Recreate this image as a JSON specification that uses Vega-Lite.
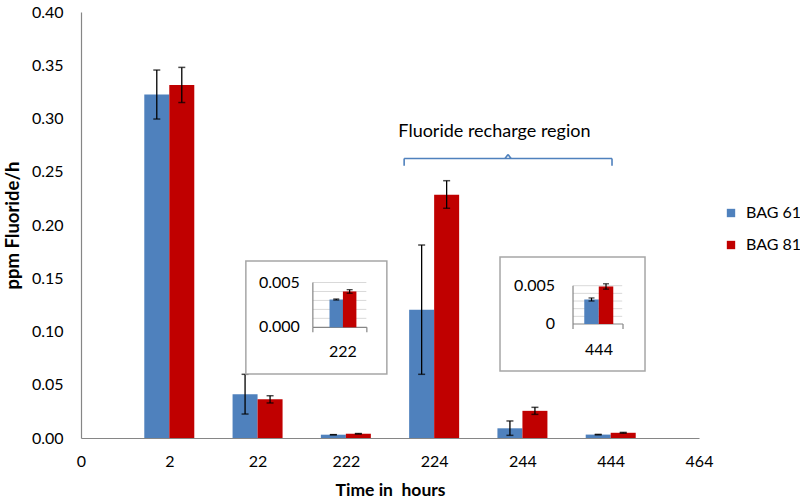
{
 "$schema": "https://vega.github.io/schema/vega-lite/v6.json",
 "width": 618,
 "height": 426,
 "autosize": {"type": "none"},
 "padding": {"left": 81, "top": 12, "right": 101, "bottom": 65},
 "background": "white",
 "config": {"view": {"stroke": null}, "font": "Lato", "text": {"font": "Lato", "color": "black"}},
 "datasets": {
  "main": [
   {"time": "2", "series": "BAG 61", "value": 0.3225, "lo": 0.2995, "hi": 0.3455},
   {"time": "2", "series": "BAG 81", "value": 0.3315, "lo": 0.315, "hi": 0.348},
   {"time": "22", "series": "BAG 61", "value": 0.041, "lo": 0.0225, "hi": 0.0598},
   {"time": "22", "series": "BAG 81", "value": 0.0363, "lo": 0.0329, "hi": 0.0397},
   {"time": "222", "series": "BAG 61", "value": 0.0031, "lo": 0.00304, "hi": 0.00316},
   {"time": "222", "series": "BAG 81", "value": 0.004, "lo": 0.0038, "hi": 0.0042},
   {"time": "224", "series": "BAG 61", "value": 0.1205, "lo": 0.0598, "hi": 0.1812},
   {"time": "224", "series": "BAG 81", "value": 0.2285, "lo": 0.2157, "hi": 0.2416},
   {"time": "244", "series": "BAG 61", "value": 0.0091, "lo": 0.0025, "hi": 0.016},
   {"time": "244", "series": "BAG 81", "value": 0.0255, "lo": 0.0222, "hi": 0.0288},
   {"time": "444", "series": "BAG 61", "value": 0.0032, "lo": 0.003, "hi": 0.0034},
   {"time": "444", "series": "BAG 81", "value": 0.0049, "lo": 0.00455, "hi": 0.00525}
  ],
  "one": [{}],
  "grid": [{"v": 0.001}, {"v": 0.002}, {"v": 0.003}, {"v": 0.004}, {"v": 0.005}]
 },
 "layer": [
  {
   "data": {"name": "main"},
   "layer": [
    {
     "mark": {"type": "bar", "width": 25},
     "encoding": {
      "x": {"field": "time", "type": "nominal",
       "scale": {"type": "point", "domain": ["0", "2", "22", "222", "224", "244", "444", "464"], "padding": 0},
       "axis": {"title": "Time in\u00a0 hours", "labelAngle": 0, "labelFontSize": 16, "labelColor": "black", "labelPadding": 15, "ticks": false, "domainColor": "#868686", "domainWidth": 1.2, "titleFontSize": 17.5, "titleFontWeight": "bold", "titleColor": "black", "titlePadding": 12}},
      "xOffset": {"field": "series", "type": "nominal", "scale": {"type": "point", "range": [-12.5, 12.5], "padding": 0}},
      "y": {"field": "value", "type": "quantitative",
       "scale": {"domain": [0, 0.4], "nice": false, "zero": false},
       "axis": {"title": "ppm Fluoride/h", "values": [0, 0.05, 0.1, 0.15, 0.2, 0.25, 0.3, 0.35, 0.4], "format": ".2f", "grid": false, "ticks": false, "labelFontSize": 16, "labelColor": "black", "labelPadding": 18, "domainColor": "#868686", "domainWidth": 1.2, "titleFontSize": 18.5, "titleFontWeight": "bold", "titleColor": "black", "titlePadding": 9}},
      "color": {"field": "series", "type": "nominal",
       "scale": {"domain": ["BAG 61", "BAG 81"], "range": ["#4f81bd", "#c00000"]},
       "legend": {"title": null, "orient": "none", "legendX": 642, "legendY": 193, "labelFontSize": 16, "labelColor": "black", "symbolType": "square", "symbolSize": 70, "rowPadding": 16, "padding": 0, "labelOffset": 7}}
     }
    },
    {
     "mark": {"type": "rule", "color": "black", "strokeWidth": 1.3},
     "encoding": {
      "x": {"field": "time", "type": "nominal"},
      "xOffset": {"field": "series", "type": "nominal", "scale": {"type": "point", "range": [-12.5, 12.5], "padding": 0}},
      "y": {"field": "lo", "type": "quantitative"},
      "y2": {"field": "hi"}
     }
    },
    {
     "mark": {"type": "tick", "orient": "horizontal", "color": "black", "size": 7, "thickness": 1.5},
     "encoding": {
      "x": {"field": "time", "type": "nominal"},
      "xOffset": {"field": "series", "type": "nominal", "scale": {"type": "point", "range": [-12.5, 12.5], "padding": 0}},
      "y": {"field": "hi", "type": "quantitative"}
     }
    },
    {
     "mark": {"type": "tick", "orient": "horizontal", "color": "black", "size": 7, "thickness": 1.5},
     "encoding": {
      "x": {"field": "time", "type": "nominal"},
      "xOffset": {"field": "series", "type": "nominal", "scale": {"type": "point", "range": [-12.5, 12.5], "padding": 0}},
      "y": {"field": "lo", "type": "quantitative"}
     }
    },
    {
     "data": {"name": "one"},
     "mark": {"type": "rule", "color": "#4f81bd", "strokeWidth": 1.6, "xOffset": -30, "x2Offset": 1.3},
     "encoding": {"x": {"datum": "224", "type": "nominal"}, "x2": {"datum": "444"}, "y": {"datum": 0.2624, "type": "quantitative"}}
    },
    {
     "data": {"name": "one"},
     "mark": {"type": "rule", "color": "#4f81bd", "strokeWidth": 1.6, "xOffset": -30},
     "encoding": {"x": {"datum": "224", "type": "nominal"}, "y": {"datum": 0.2557, "type": "quantitative"}, "y2": {"datum": 0.2624}}
    },
    {
     "data": {"name": "one"},
     "mark": {"type": "rule", "color": "#4f81bd", "strokeWidth": 1.6, "xOffset": 1.3},
     "encoding": {"x": {"datum": "444", "type": "nominal"}, "y": {"datum": 0.2557, "type": "quantitative"}, "y2": {"datum": 0.2624}}
    },
    {
     "data": {"name": "one"},
     "mark": {"type": "rule", "color": "#4f81bd", "strokeWidth": 1.6, "xOffset": -17.4, "x2Offset": -14.4},
     "encoding": {"x": {"datum": "244", "type": "nominal"}, "x2": {"datum": "244"}, "y": {"datum": 0.2624, "type": "quantitative"}, "y2": {"datum": 0.2661}}
    },
    {
     "data": {"name": "one"},
     "mark": {"type": "rule", "color": "#4f81bd", "strokeWidth": 1.6, "xOffset": -14.4, "x2Offset": -11.4},
     "encoding": {"x": {"datum": "244", "type": "nominal"}, "x2": {"datum": "244"}, "y": {"datum": 0.2661, "type": "quantitative"}, "y2": {"datum": 0.2624}}
    },
    {
     "data": {"name": "one"},
     "mark": {"type": "text", "text": "Fluoride recharge region", "fontSize": 18, "align": "center", "baseline": "middle", "xOffset": -28, "color": "black"},
     "encoding": {"x": {"datum": "244", "type": "nominal"}, "y": {"datum": 0.2873, "type": "quantitative"}}
    }
   ]
  },
  {
   "data": {"name": "main"},
   "layer": [
    {
     "data": {"name": "one"},
     "mark": {"type": "rect", "fill": "white", "stroke": "#a6a6a6", "strokeWidth": 1.5, "xOffset": -100, "x2Offset": 41},
     "encoding": {"x": {"datum": "222", "type": "nominal"}, "x2": {"datum": "222"},
      "y": {"datum": 0.0074, "type": "quantitative", "scale": {"domain": [-0.012355, 0.03519], "nice": false, "zero": false}, "axis": null},
      "y2": {"datum": -0.00521}}
    },
    {
     "data": {"name": "grid"},
     "mark": {"type": "rule", "color": "#d9d9d9", "strokeWidth": 1, "xOffset": -33, "x2Offset": 20.5},
     "encoding": {"x": {"datum": "222", "type": "nominal"}, "x2": {"datum": "222"}, "y": {"field": "v", "type": "quantitative", "axis": null}}
    },
    {
     "data": {"name": "one"},
     "mark": {"type": "rule", "color": "#868686", "strokeWidth": 1.2, "xOffset": -33},
     "encoding": {"x": {"datum": "222", "type": "nominal"}, "y": {"datum": 0, "type": "quantitative", "axis": null}, "y2": {"datum": 0.005}}
    },
    {
     "data": {"name": "one"},
     "mark": {"type": "rule", "color": "#868686", "strokeWidth": 1.2, "xOffset": -33, "x2Offset": 21},
     "encoding": {"x": {"datum": "222", "type": "nominal"}, "x2": {"datum": "222"}, "y": {"datum": 0, "type": "quantitative", "axis": null}}
    },
    {
     "data": {"name": "one"},
     "mark": {"type": "rule", "color": "#868686", "strokeWidth": 1.2, "xOffset": -33},
     "encoding": {"x": {"datum": "222", "type": "nominal"}, "y": {"datum": 0, "type": "quantitative", "axis": null}, "y2": {"datum": -0.00056}}
    },
    {
     "data": {"name": "one"},
     "mark": {"type": "rule", "color": "#868686", "strokeWidth": 1.2, "xOffset": 21},
     "encoding": {"x": {"datum": "222", "type": "nominal"}, "y": {"datum": 0, "type": "quantitative", "axis": null}, "y2": {"datum": -0.00056}}
    },
    {
     "transform": [{"filter": "datum.time == '222'"}],
     "mark": {"type": "bar", "width": 13.5},
     "encoding": {
      "x": {"field": "time", "type": "nominal"},
      "xOffset": {"field": "series", "type": "nominal", "scale": {"type": "point", "range": [-9.6, 3.8], "padding": 0}},
      "y": {"field": "value", "type": "quantitative", "axis": null},
      "color": {"field": "series", "type": "nominal"}
     }
    },
    {
     "transform": [{"filter": "datum.time == '222'"}],
     "mark": {"type": "rule", "color": "black", "strokeWidth": 1.2},
     "encoding": {"x": {"field": "time", "type": "nominal"}, "xOffset": {"field": "series", "type": "nominal", "scale": {"type": "point", "range": [-9.6, 3.8], "padding": 0}}, "y": {"field": "lo", "type": "quantitative", "axis": null}, "y2": {"field": "hi"}}
    },
    {
     "transform": [{"filter": "datum.time == '222'"}],
     "mark": {"type": "tick", "orient": "horizontal", "color": "black", "size": 6, "thickness": 1.3},
     "encoding": {"x": {"field": "time", "type": "nominal"}, "xOffset": {"field": "series", "type": "nominal", "scale": {"type": "point", "range": [-9.6, 3.8], "padding": 0}}, "y": {"field": "hi", "type": "quantitative", "axis": null}}
    },
    {
     "transform": [{"filter": "datum.time == '222'"}],
     "mark": {"type": "tick", "orient": "horizontal", "color": "black", "size": 6, "thickness": 1.3},
     "encoding": {"x": {"field": "time", "type": "nominal"}, "xOffset": {"field": "series", "type": "nominal", "scale": {"type": "point", "range": [-9.6, 3.8], "padding": 0}}, "y": {"field": "lo", "type": "quantitative", "axis": null}}
    },
    {
     "data": {"name": "one"},
     "mark": {"type": "text", "text": "0.005", "fontSize": 16, "align": "right", "baseline": "middle", "xOffset": -46, "color": "black"},
     "encoding": {"x": {"datum": "222", "type": "nominal"}, "y": {"datum": 0.005, "type": "quantitative", "axis": null}}
    },
    {
     "data": {"name": "one"},
     "mark": {"type": "text", "text": "0.000", "fontSize": 16, "align": "right", "baseline": "middle", "xOffset": -46, "color": "black"},
     "encoding": {"x": {"datum": "222", "type": "nominal"}, "y": {"datum": 0, "type": "quantitative", "axis": null}}
    },
    {
     "data": {"name": "one"},
     "mark": {"type": "text", "text": "222", "fontSize": 16, "align": "center", "baseline": "middle", "xOffset": -3, "color": "black"},
     "encoding": {"x": {"datum": "222", "type": "nominal"}, "y": {"datum": -0.00276, "type": "quantitative", "axis": null}}
    }
   ]
  },
  {
   "data": {"name": "main"},
   "layer": [
    {
     "data": {"name": "one"},
     "mark": {"type": "rect", "fill": "white", "stroke": "#a6a6a6", "strokeWidth": 1.5, "xOffset": -110.7, "x2Offset": 34.3},
     "encoding": {"x": {"datum": "444", "type": "nominal"}, "x2": {"datum": "444"},
      "y": {"datum": 0.008747, "type": "quantitative", "scale": {"domain": [-0.014883, 0.040731], "nice": false, "zero": false}, "axis": null},
      "y2": {"datum": -0.006136}}
    },
    {
     "data": {"name": "grid"},
     "mark": {"type": "rule", "color": "#d9d9d9", "strokeWidth": 1, "xOffset": -37.7, "x2Offset": 11.5},
     "encoding": {"x": {"datum": "444", "type": "nominal"}, "x2": {"datum": "444"}, "y": {"field": "v", "type": "quantitative", "axis": null}}
    },
    {
     "data": {"name": "one"},
     "mark": {"type": "rule", "color": "#868686", "strokeWidth": 1.2, "xOffset": -37.7},
     "encoding": {"x": {"datum": "444", "type": "nominal"}, "y": {"datum": 0, "type": "quantitative", "axis": null}, "y2": {"datum": 0.005}}
    },
    {
     "data": {"name": "one"},
     "mark": {"type": "rule", "color": "#868686", "strokeWidth": 1.2, "xOffset": -37.7, "x2Offset": 12.3},
     "encoding": {"x": {"datum": "444", "type": "nominal"}, "x2": {"datum": "444"}, "y": {"datum": 0, "type": "quantitative", "axis": null}}
    },
    {
     "data": {"name": "one"},
     "mark": {"type": "rule", "color": "#868686", "strokeWidth": 1.2, "xOffset": -37.7},
     "encoding": {"x": {"datum": "444", "type": "nominal"}, "y": {"datum": 0, "type": "quantitative", "axis": null}, "y2": {"datum": -0.00065}}
    },
    {
     "data": {"name": "one"},
     "mark": {"type": "rule", "color": "#868686", "strokeWidth": 1.2, "xOffset": 12.3},
     "encoding": {"x": {"datum": "444", "type": "nominal"}, "y": {"datum": 0, "type": "quantitative", "axis": null}, "y2": {"datum": -0.00065}}
    },
    {
     "transform": [{"filter": "datum.time == '444'"}],
     "mark": {"type": "bar", "width": 14.5},
     "encoding": {
      "x": {"field": "time", "type": "nominal"},
      "xOffset": {"field": "series", "type": "nominal", "scale": {"type": "point", "range": [-19.2, -4.7], "padding": 0}},
      "y": {"field": "value", "type": "quantitative", "axis": null},
      "color": {"field": "series", "type": "nominal"}
     }
    },
    {
     "transform": [{"filter": "datum.time == '444'"}],
     "mark": {"type": "rule", "color": "black", "strokeWidth": 1.2},
     "encoding": {"x": {"field": "time", "type": "nominal"}, "xOffset": {"field": "series", "type": "nominal", "scale": {"type": "point", "range": [-19.2, -4.7], "padding": 0}}, "y": {"field": "lo", "type": "quantitative", "axis": null}, "y2": {"field": "hi"}}
    },
    {
     "transform": [{"filter": "datum.time == '444'"}],
     "mark": {"type": "tick", "orient": "horizontal", "color": "black", "size": 6, "thickness": 1.3},
     "encoding": {"x": {"field": "time", "type": "nominal"}, "xOffset": {"field": "series", "type": "nominal", "scale": {"type": "point", "range": [-19.2, -4.7], "padding": 0}}, "y": {"field": "hi", "type": "quantitative", "axis": null}}
    },
    {
     "transform": [{"filter": "datum.time == '444'"}],
     "mark": {"type": "tick", "orient": "horizontal", "color": "black", "size": 6, "thickness": 1.3},
     "encoding": {"x": {"field": "time", "type": "nominal"}, "xOffset": {"field": "series", "type": "nominal", "scale": {"type": "point", "range": [-19.2, -4.7], "padding": 0}}, "y": {"field": "lo", "type": "quantitative", "axis": null}}
    },
    {
     "data": {"name": "one"},
     "mark": {"type": "text", "text": "0.005", "fontSize": 16, "align": "right", "baseline": "middle", "xOffset": -55.7, "color": "black"},
     "encoding": {"x": {"datum": "444", "type": "nominal"}, "y": {"datum": 0.005, "type": "quantitative", "axis": null}}
    },
    {
     "data": {"name": "one"},
     "mark": {"type": "text", "text": "0", "fontSize": 16, "align": "right", "baseline": "middle", "xOffset": -55.7, "color": "black"},
     "encoding": {"x": {"datum": "444", "type": "nominal"}, "y": {"datum": 0, "type": "quantitative", "axis": null}}
    },
    {
     "data": {"name": "one"},
     "mark": {"type": "text", "text": "444", "fontSize": 16, "align": "center", "baseline": "middle", "xOffset": -11.7, "color": "black"},
     "encoding": {"x": {"datum": "444", "type": "nominal"}, "y": {"datum": -0.003394, "type": "quantitative", "axis": null}}
    }
   ]
  }
 ],
 "resolve": {"scale": {"y": "independent", "xOffset": "independent"}}
}
